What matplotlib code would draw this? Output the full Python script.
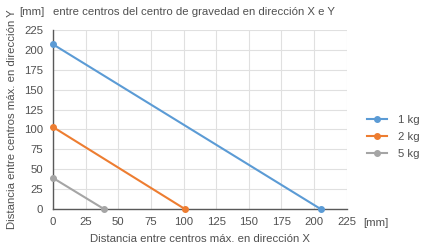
import matplotlib
matplotlib.use("Agg")
import matplotlib.pyplot as plt

plt.rcParams['font.family'] = ['Liberation Sans', 'DejaVu Sans']

labels = ['1 kg', '2 kg', '5 kg']
colors = ['#5b9bd5', '#ed7d31', '#a5a5a5']
x_vals = [[0, 205], [0, 101], [0, 39]]
y_vals = [[207, 0], [103, 0], [39, 0]]
ticks = [0, 25, 50, 75, 100, 125, 150, 175, 200, 225]

fs = 8.2
txt = '#505050'

fig = plt.figure(figsize=(4.22, 2.5), dpi=100)
ax = fig.add_axes([0.1256, 0.164, 0.696, 0.716])

for xs, ys, lab, c in zip(x_vals, y_vals, labels, colors):
    ax.plot(xs, ys, color=c, lw=1.5, marker='o', ms=4, label=lab, clip_on=False, zorder=3)

ax.set_xlim(0, 225)
ax.set_ylim(0, 225)
ax.set_xticks(ticks)
ax.set_yticks(ticks)
ax.grid(True, color='#e0e0e0', lw=0.8)
ax.set_axisbelow(True)
for s in ['top', 'right']:
    ax.spines[s].set_visible(False)
for s in ['left', 'bottom']:
    ax.spines[s].set_color('#595959')
    ax.spines[s].set_linewidth(1.0)
ax.tick_params(axis='y', length=0, labelsize=fs, colors=txt, pad=7)
ax.tick_params(axis='x', length=0, labelsize=fs, colors=txt, pad=6)

ax.set_xlabel('Distancia entre centros máx. en dirección X', fontsize=fs, color=txt, labelpad=5)
ax.set_ylabel('Distancia entre centros máx. en dirección Y', fontsize=fs, color=txt)
ax.yaxis.set_label_coords(-0.122, 0.5)

fig.text(376 / 422, 1 - 223 / 250, '[mm]', fontsize=fs, color=txt, ha='center', va='center')
fig.text(32 / 422, 1 - 12 / 250, '[mm]', fontsize=fs, color=txt, ha='center', va='center')
fig.text(53 / 422, 1 - 12 / 250, 'entre centros del centro de gravedad en dirección X e Y',
         fontsize=fs, color=txt, ha='left', va='center')

ax.legend(loc='center left', bbox_to_anchor=(367 / 422, 1 - 137 / 250),
          bbox_transform=fig.transFigure, frameon=False, borderpad=0, borderaxespad=0,
          fontsize=fs, labelcolor=txt, handlelength=1.75, handletextpad=1.0,
          labelspacing=0.65)

fig.savefig('out.png', dpi=100)
